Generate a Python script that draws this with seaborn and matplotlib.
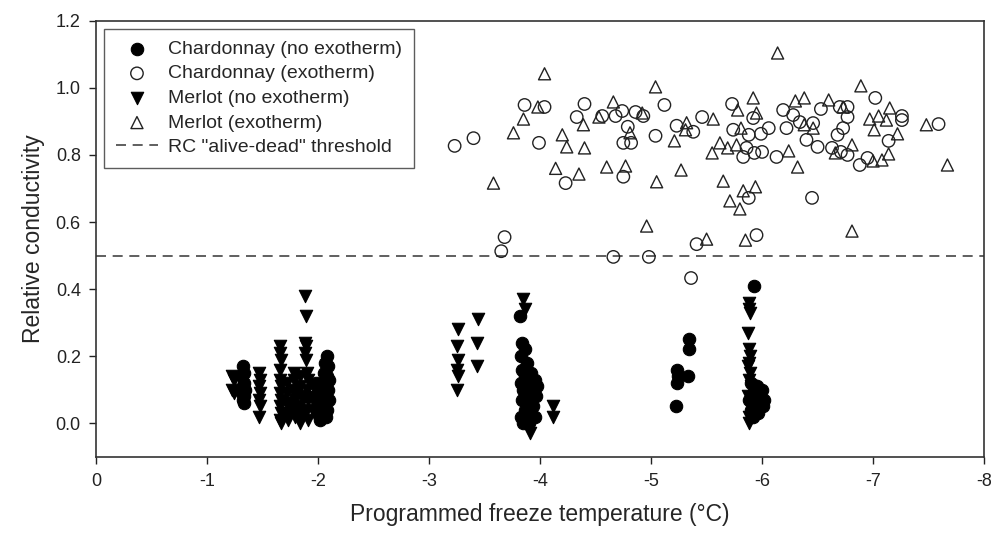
import matplotlib
matplotlib.use('Agg')
import matplotlib.pyplot as plt
import pandas as pd
import seaborn as sns

# Chardonnay, no exotherm (filled circles)
chard_noexo_x = [-1.32, -1.33, -1.31, -1.33, -1.32, -1.34, -1.31, -1.33, -1.32, -1.33,
                 -2.08, -2.06, -2.09, -2.05, -2.08, -2.10, -2.04, -2.07, -2.09, -2.02,
                 -2.06, -2.10, -2.00, -2.05, -2.08, -2.03, -2.07, -2.02, -1.98, -1.97, -1.99,
                 -1.80, -1.75, -1.85, -1.90,
                 -3.82, -3.84, -3.86, -3.83, -3.88, -3.84, -3.92, -3.86, -3.95, -3.83,
                 -3.90, -3.97, -3.85, -3.92, -3.96, -3.84, -3.90, -3.94, -3.86, -3.92,
                 -3.83, -3.88, -3.95, -3.85, -3.90,
                 -5.34, -5.34, -5.23, -5.24, -5.23, -5.33, -5.22,
                 -5.93, -5.90, -5.95, -6.00, -5.92, -5.97, -6.02, -5.88, -5.94, -5.99,
                 -5.90, -5.96, -5.92, -5.98, -6.01]
chard_noexo_y = [0.17, 0.15, 0.14, 0.12, 0.11, 0.10, 0.09, 0.08, 0.07, 0.06,
                 0.20, 0.18, 0.17, 0.15, 0.14, 0.13, 0.12, 0.11, 0.10, 0.09,
                 0.08, 0.07, 0.06, 0.05, 0.04, 0.03, 0.02, 0.01, 0.12, 0.08, 0.04,
                 0.10, 0.06, 0.04, 0.08,
                 0.32, 0.24, 0.22, 0.20, 0.18, 0.16, 0.15, 0.14, 0.13, 0.12,
                 0.12, 0.11, 0.10, 0.09, 0.08, 0.07, 0.06, 0.05, 0.04, 0.03,
                 0.02, 0.01, 0.02, 0.00, 0.00,
                 0.25, 0.22, 0.16, 0.14, 0.12, 0.14, 0.05,
                 0.41, 0.12, 0.11, 0.10, 0.09, 0.08, 0.07, 0.07, 0.06, 0.05,
                 0.04, 0.03, 0.02, 0.09, 0.05]

# Chardonnay, exotherm (open circles)
chard_exo_x = [-3.23, -3.40, -3.65, -3.68, -3.86, -4.04, -3.99, -4.23, -4.40, -4.33,
               -4.56, -4.68, -4.74, -4.86, -4.93, -4.79, -4.75, -4.82, -4.75, -4.66,
               -4.98, -5.04, -5.12, -5.23, -5.38, -5.46, -5.41, -5.36, -5.73, -5.74,
               -5.88, -5.92, -5.99, -6.06, -5.86, -5.83, -5.93, -6.00, -6.13, -6.19,
               -6.22, -6.28, -6.34, -6.40, -6.46, -6.50, -6.53, -6.70, -6.77, -6.77,
               -6.73, -6.68, -6.63, -6.77, -6.71, -6.88, -6.95, -7.02, -7.26, -7.26,
               -7.14, -7.59, -5.88, -6.45, -5.95]
chard_exo_y = [0.827, 0.850, 0.513, 0.555, 0.949, 0.943, 0.836, 0.716, 0.952, 0.913,
               0.916, 0.916, 0.931, 0.928, 0.916, 0.884, 0.836, 0.836, 0.735, 0.496,
               0.496, 0.857, 0.949, 0.887, 0.869, 0.913, 0.534, 0.433, 0.952, 0.875,
               0.860, 0.910, 0.863, 0.880, 0.821, 0.794, 0.806, 0.809, 0.794, 0.934,
               0.880, 0.919, 0.898, 0.845, 0.895, 0.824, 0.937, 0.943, 0.943, 0.913,
               0.880, 0.860, 0.821, 0.800, 0.809, 0.770, 0.791, 0.970, 0.916, 0.904,
               0.842, 0.892, 0.672, 0.672, 0.561]

# Merlot, no exotherm (filled down triangles)
merlot_noexo_x = [-1.22, -1.24, -1.22, -1.24,
                  -1.47, -1.48, -1.47, -1.48, -1.47, -1.48, -1.47,
                  -1.66, -1.66, -1.67, -1.66, -1.66, -1.67, -1.66, -1.67, -1.66, -1.67, -1.66, -1.67,
                  -1.72, -1.72, -1.73, -1.72, -1.73,
                  -1.78, -1.78, -1.79, -1.78, -1.79, -1.78,
                  -1.84, -1.84, -1.85, -1.84, -1.85, -1.84,
                  -1.88, -1.89, -1.88, -1.89, -1.88, -1.89, -1.90, -1.91, -1.90, -1.91, -1.90, -1.91,
                  -1.95, -1.95, -1.96,
                  -3.26, -3.25, -3.26, -3.25, -3.26, -3.25,
                  -3.44, -3.43, -3.43,
                  -3.85, -3.86, -3.90, -3.88, -3.91, -3.87,
                  -4.12, -4.12,
                  -5.88, -5.88, -5.89, -5.87, -5.88, -5.89, -5.88, -5.87, -5.89, -5.88,
                  -5.90, -5.87, -5.89, -5.88, -5.88]
merlot_noexo_y = [0.14, 0.13, 0.10, 0.09,
                  0.15, 0.13, 0.11, 0.09, 0.07, 0.05, 0.02,
                  0.23, 0.21, 0.19, 0.16, 0.13, 0.11, 0.09, 0.07, 0.05, 0.03, 0.01, 0.00,
                  0.12, 0.09, 0.06, 0.03, 0.01,
                  0.13, 0.10, 0.07, 0.04, 0.02, 0.15,
                  0.14, 0.11, 0.08, 0.05, 0.02, 0.00,
                  0.38, 0.32, 0.24, 0.23, 0.21, 0.19, 0.15, 0.13, 0.10, 0.07, 0.04, 0.01,
                  0.11, 0.07, 0.03,
                  0.28, 0.23, 0.19, 0.16, 0.14, 0.10,
                  0.31, 0.24, 0.17,
                  0.37, 0.34, 0.14, 0.08, -0.03, 0.02,
                  0.05, 0.02,
                  0.36, 0.34, 0.33, 0.27, 0.22, 0.20, 0.18, 0.17, 0.15, 0.13,
                  0.11, 0.08, 0.05, 0.02, 0.00]

# Merlot, exotherm (open up triangles)
merlot_exo_x = [-3.58, -3.76, -3.85, -3.98, -4.04, -4.14, -4.20, -4.24, -4.35, -4.40,
                -4.39, -4.53, -4.60, -4.66, -4.77, -4.81, -4.92, -4.96, -5.04, -5.05,
                -5.21, -5.27, -5.32, -5.31, -5.50, -5.56, -5.55, -5.62, -5.69, -5.77,
                -5.78, -5.81, -5.92, -5.95, -6.14, -6.30, -6.38, -6.60, -6.38, -6.46,
                -6.24, -6.73, -6.81, -6.66, -6.89, -6.97, -7.05, -7.15, -7.12, -7.01,
                -7.22, -7.14, -7.08, -7.00, -7.48, -7.67, -6.32, -5.65, -5.71, -5.80,
                -5.83, -5.94, -5.85, -6.81]
merlot_exo_y = [0.716, 0.866, 0.907, 0.943, 1.042, 0.760, 0.860, 0.824, 0.743, 0.821,
                0.890, 0.913, 0.764, 0.958, 0.767, 0.866, 0.925, 0.588, 1.003, 0.720,
                0.842, 0.755, 0.896, 0.875, 0.549, 0.907, 0.806, 0.836, 0.821, 0.830,
                0.934, 0.880, 0.970, 0.925, 1.104, 0.961, 0.970, 0.964, 0.890, 0.880,
                0.812, 0.943, 0.830, 0.806, 1.006, 0.907, 0.916, 0.940, 0.904, 0.875,
                0.863, 0.803, 0.785, 0.782, 0.890, 0.770, 0.764, 0.722, 0.663, 0.639,
                0.693, 0.705, 0.546, 0.573]

threshold = 0.5

x_ticks = [0, -1, -2, -3, -4, -5, -6, -7, -8]
y_ticks = [0.0, 0.2, 0.4, 0.6, 0.8, 1.0, 1.2]

sns.set_style('ticks')
plt.rcParams['font.family'] = ['Liberation Sans', 'DejaVu Sans']

fig = plt.figure(figsize=(9.91, 5.33), dpi=100)
ax = fig.add_axes([0.097, 0.143, 0.896, 0.818])

# filled circles, open circles, filled triangles, open triangles
sns.scatterplot(x=chard_noexo_x, y=chard_noexo_y, marker='o', s=80,
                color='black', edgecolor='black', linewidth=0.8,
                label='Chardonnay (no exotherm)', ax=ax, zorder=3)
sns.scatterplot(x=chard_exo_x, y=chard_exo_y, marker='o', s=80,
                facecolor='none', edgecolor='#222222', linewidth=1.0,
                label='Chardonnay (exotherm)', ax=ax, zorder=3)
sns.scatterplot(x=merlot_noexo_x, y=merlot_noexo_y, marker='v', s=80,
                color='black', edgecolor='black', linewidth=0.8,
                label='Merlot (no exotherm)', ax=ax, zorder=3)
sns.scatterplot(x=merlot_exo_x, y=merlot_exo_y, marker='^', s=75,
                facecolor='none', edgecolor='#222222', linewidth=1.0,
                label='Merlot (exotherm)', ax=ax, zorder=3)

ax.axhline(threshold, color='#444444', linestyle=(0, (6, 4)), linewidth=1.2,
           label='RC "alive-dead" threshold', zorder=2)

ax.set_xlim(0, -8)
ax.set_ylim(-0.1, 1.2)
ax.set_xticks(x_ticks)
ax.set_xticklabels([str(t) for t in x_ticks])
ax.set_yticks(y_ticks)
ax.set_yticklabels([f'{t:.1f}' for t in y_ticks])
ax.tick_params(direction='out', length=5, width=1, labelsize=13, colors='#222222')
ax.tick_params(axis='x', pad=7)
ax.tick_params(axis='y', pad=6)

for sp in ax.spines.values():
    sp.set_visible(True)
    sp.set_color('#333333')
    sp.set_linewidth(1.2)

ax.set_xlabel('Programmed freeze temperature (\u00b0C)', fontsize=16.5, labelpad=9)
ax.set_ylabel('Relative conductivity', fontsize=16.5, labelpad=8)

leg = ax.legend(loc='upper left', bbox_to_anchor=(0.0, 1.0), fontsize=14,
                frameon=True, fancybox=False, borderpad=0.6, handletextpad=0.5,
                labelspacing=0.36, handlelength=2.2, borderaxespad=0.4)
leg.get_frame().set_edgecolor('#333333')
leg.get_frame().set_linewidth(1.0)

fig.savefig('out.png', dpi=100)
